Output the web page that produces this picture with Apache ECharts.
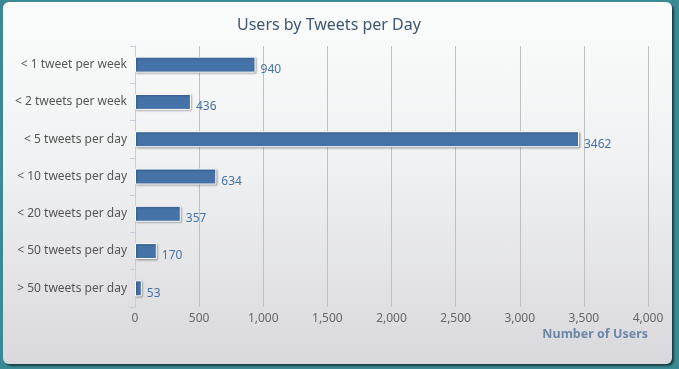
<!DOCTYPE html>
<html><head><meta charset="utf-8">
<script src="https://cdn.jsdelivr.net/npm/echarts@6/dist/echarts.min.js"></script>
<style>
html,body{margin:0;padding:0;width:679px;height:369px;background:#3a8a95;overflow:hidden;}
#panel{position:absolute;left:3px;top:2px;width:669px;height:362px;border-radius:6px;
background:linear-gradient(to bottom,#fbfcfc 0%,#f0f1f2 45%,#d9d9dd 100%);
box-shadow:2px 2px 2px rgba(0,0,0,0.55);}
#chart{width:669px;height:362px;}
</style></head><body>
<div id="panel"><div id="chart"></div></div>
<script>
const categories = ['< 1 tweet per week','< 2 tweets per week','< 5 tweets per day','< 10 tweets per day','< 20 tweets per day','< 50 tweets per day','> 50 tweets per day'];
const users = [940, 436, 3462, 634, 357, 170, 53];
const titleText = 'Users by Tweets per Day';
const axisName = 'Number of Users';

const chart = echarts.init(document.getElementById('chart'), null, {renderer:'canvas'});
const font = 'Noto Sans';
chart.setOption({
  backgroundColor: 'transparent',
  animation: false,
  title: {text: titleText, left: 229, top: 10,
    textStyle:{color:'#3e576f', fontSize:16, fontWeight:'normal', fontFamily:font}},
  grid: {left: 132, right: 24, top: 44, bottom: 57, containLabel:false},
  xAxis: {type:'value', min:0, max:4000, interval:500,
    axisLine:{show:false}, axisTick:{show:false},
    splitLine:{lineStyle:{color:'#c0c0c0', width:1}},
    axisLabel:{color:'#666', fontSize:12, fontFamily:font, margin:6,
      formatter: v => v.toLocaleString('en-US')},
    name: axisName, nameLocation:'end', nameGap:0,
    nameTextStyle:{color:'#6d87a8', fontWeight:'bold', fontSize:12.5, fontFamily:font,
      align:'right', verticalAlign:'top', padding:[21,0,0,0]}
  },
  yAxis: {type:'category', data: categories, inverse:true,
    axisLine:{show:true, lineStyle:{color:'#c0d0e0'}},
    axisTick:{show:true, length:5, lineStyle:{color:'#c0d0e0'}},
    axisLabel:{color:'#555', fontSize:12, fontFamily:font, margin:8}
  },
  series: [{type:'bar', data: users, barWidth:16,
    itemStyle:{color:'#4572a7', borderColor:'#ffffff', borderWidth:1,
      shadowColor:'rgba(0,0,0,0.3)', shadowBlur:2, shadowOffsetX:1, shadowOffsetY:1},
    label:{show:true, position:'right', distance:5, offset:[0,5],
      color:'#4572a7', fontSize:12, fontFamily:font}
  }]
});
</script></body></html>
